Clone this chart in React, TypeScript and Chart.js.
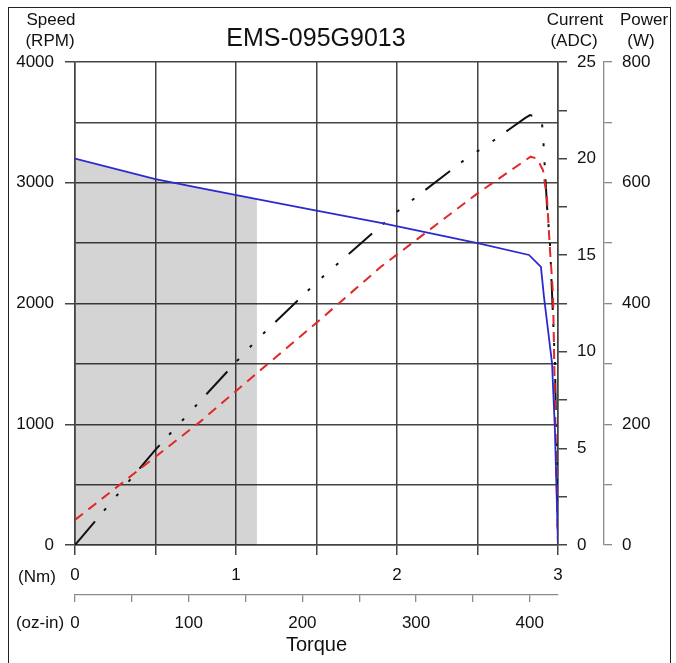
import React, { useEffect, useRef } from 'react';
import { Chart, registerables } from 'chart.js';

Chart.register(...registerables);

const CHART_TITLE = 'EMS-095G9013';

// Speed curve (RPM) vs torque (Nm)
const speedTorqueNm = [0, 0.5, 0.78, 1.13, 1.5, 1.9, 2.5, 2.82, 2.894, 2.913, 2.963, 2.981, 3.0];
const speedRpm = [3200, 3030, 2955, 2865, 2770, 2667, 2500, 2402, 2303, 2054, 1507, 952, 0];

// Continuous-duty shaded region (under speed curve)
const contTorqueNm = [0, 0.5, 0.78, 1.13];
const contSpeedRpm = [3200, 3030, 2955, 2865];

// Current (ADC) vs torque (Nm)
const currentTorqueNm = [0, 0.78, 1.13, 1.5, 1.9, 2.5, 2.83, 2.87, 2.907, 2.932, 2.95, 2.969, 2.981, 3.0];
const currentAdc = [1.3, 6.4, 8.9, 11.5, 14.4, 18.2, 20.1, 20.0, 19.4, 17.9, 15.3, 13.0, 7.5, 0];

// Power (W) vs torque (Nm)
const powerTorqueNm = [0, 0.5, 1.0, 1.13, 1.5, 2.0, 2.42, 2.6, 2.7, 2.795, 2.826, 2.87, 2.9, 2.907, 2.912, 2.932, 2.95, 2.969, 2.981, 2.99, 3.0];
const powerW = [0, 158, 303, 340, 435, 552, 638, 670, 689, 707, 712, 709, 699, 682, 654, 560, 500, 378, 300, 170, 0];

// Axes
const NM_MAX = 3;
const NM_TO_OZIN = 141.6119;
const SPEED_MAX = 4000;
const CURRENT_MAX = 25;
const POWER_MAX = 800;

const FONT = '"Liberation Sans", Arial, Helvetica, sans-serif';
const GRID = '#444444';
const AXIS2 = '#8a8a8a';
const TEXT = '#111111';

const pts = (xs: number[], ys: number[]) => xs.map((x, i) => ({ x, y: ys[i] }));

const headerPlugin = {
  id: 'headerTexts',
  afterDraw(chart: any) {
    const ctx = chart.ctx as CanvasRenderingContext2D;
    ctx.save();
    ctx.strokeStyle = '#222';
    ctx.lineWidth = 1;
    ctx.strokeRect(8.5, 7.5, 662, 680);
    ctx.fillStyle = TEXT;
    ctx.textAlign = 'center';
    ctx.textBaseline = 'middle';
    ctx.font = `17px ${FONT}`;
    ctx.fillText('Speed', 51, 20);
    ctx.fillText('(RPM)', 50, 41);
    ctx.fillText('Current', 575, 20);
    ctx.fillText('(ADC)', 574, 41);
    ctx.fillText('Power', 644, 20);
    ctx.fillText('(W)', 641, 41);
    ctx.fillText('(Nm)', 37, 577);
    ctx.fillText('(oz-in)', 40, 623);
    ctx.font = `25px ${FONT}`;
    ctx.fillText(CHART_TITLE, 316, 39);
    ctx.restore();
  },
};

export default function App() {
  const ref = useRef<HTMLCanvasElement | null>(null);

  useEffect(() => {
    if (!ref.current) return;
    const tickFont = { family: FONT, size: 17 };
    const chart = new Chart(ref.current, {
      type: 'line',
      data: {
        datasets: [
          {
            label: 'Speed',
            data: pts(speedTorqueNm, speedRpm),
            xAxisID: 'x',
            yAxisID: 'y',
            borderColor: '#2a2ad0',
            borderWidth: 1.8,
            pointRadius: 0,
            fill: false,
          },
          {
            label: 'Current',
            data: pts(currentTorqueNm, currentAdc),
            xAxisID: 'x',
            yAxisID: 'y1',
            borderColor: '#e02828',
            borderWidth: 2,
            borderDash: [10, 7],
            pointRadius: 0,
            fill: false,
          },
          {
            label: 'Power',
            data: pts(powerTorqueNm, powerW),
            xAxisID: 'x',
            yAxisID: 'y2',
            borderColor: '#111111',
            borderWidth: 2,
            borderDash: [31, 14, 3, 16, 3, 16, 3, 14],
            pointRadius: 0,
            fill: false,
          },
          {
            label: 'Continuous',
            data: pts(contTorqueNm, contSpeedRpm),
            xAxisID: 'x',
            yAxisID: 'y',
            borderWidth: 0,
            borderColor: 'rgba(0,0,0,0)',
            backgroundColor: 'rgba(0,0,0,0.17)',
            pointRadius: 0,
            fill: 'origin',
          },
        ],
      },
      options: {
        animation: false,
        responsive: false,
        devicePixelRatio: 1,
        layout: { padding: { top: 62, left: 0, right: 0, bottom: 0 } },
        plugins: {
          legend: { display: false },
          tooltip: { enabled: false },
          title: { display: false },
        },
        scales: {
          x: {
            type: 'linear',
            position: 'bottom',
            weight: 0,
            min: 0,
            max: NM_MAX,
            ticks: {
              stepSize: 0.5,
              autoSkip: false,
              maxRotation: 0,
              padding: 10,
              color: TEXT,
              font: tickFont,
              callback: (v: any) => (Number.isInteger(Number(v)) ? String(v) : ''),
            },
            grid: { color: GRID, lineWidth: 1.5, tickLength: 10, tickColor: GRID },
            border: { color: GRID, width: 1.5 },
            afterFit: (s: any) => {
              s.height = 50;
            },
          },
          x2: {
            type: 'linear',
            position: 'bottom',
            weight: 1,
            min: 0,
            max: NM_MAX * NM_TO_OZIN,
            ticks: {
              stepSize: 50,
              includeBounds: false,
              autoSkip: false,
              maxRotation: 0,
              padding: 11,
              color: TEXT,
              font: tickFont,
              callback: (v: any) => (Number(v) % 100 === 0 ? String(v) : ''),
            },
            grid: { drawOnChartArea: false, tickLength: 7, color: AXIS2, lineWidth: 1.3 },
            border: { color: AXIS2, width: 1.3 },
            title: {
              display: true,
              text: 'Torque',
              color: TEXT,
              font: { family: FONT, size: 20 },
              padding: { top: 2, bottom: 6 },
            },
            afterFit: (s: any) => {
              s.height = 68;
            },
          },
          y: {
            type: 'linear',
            position: 'left',
            min: 0,
            max: SPEED_MAX,
            ticks: {
              stepSize: 500,
              autoSkip: false,
              padding: 11,
              color: TEXT,
              font: tickFont,
              callback: (v: any) => (Number(v) % 1000 === 0 ? String(v) : ''),
            },
            grid: {
              color: GRID,
              lineWidth: 1.5,
              tickLength: 10,
              tickColor: (c: any) => (c.tick && c.tick.value % 1000 === 0 ? GRID : 'rgba(0,0,0,0)'),
            },
            border: { color: GRID, width: 1.5 },
            afterFit: (s: any) => {
              s.width = 75;
            },
          },
          y1: {
            type: 'linear',
            position: 'right',
            weight: 0,
            min: 0,
            max: CURRENT_MAX,
            ticks: {
              stepSize: 2.5,
              autoSkip: false,
              padding: 10,
              color: TEXT,
              font: tickFont,
              callback: (v: any) => (Number(v) % 5 === 0 ? String(v) : ''),
            },
            grid: { drawOnChartArea: false, tickLength: 9, color: GRID, lineWidth: 1.5 },
            border: { color: GRID, width: 1.5 },
            afterFit: (s: any) => {
              s.width = 46;
            },
          },
          y2: {
            type: 'linear',
            position: 'right',
            weight: 1,
            min: 0,
            max: POWER_MAX,
            ticks: {
              stepSize: 100,
              autoSkip: false,
              padding: 10,
              color: TEXT,
              font: tickFont,
              callback: (v: any) => (Number(v) % 200 === 0 ? String(v) : ''),
            },
            grid: { drawOnChartArea: false, tickLength: 8, color: AXIS2, lineWidth: 1.3 },
            border: { color: AXIS2, width: 1.3 },
            afterFit: (s: any) => {
              s.width = 72;
            },
          },
        },
      } as any,
      plugins: [headerPlugin],
    });
    return () => chart.destroy();
  }, []);

  return (
    <div style={{ position: 'absolute', left: 0, top: 0, width: 676, height: 663, background: '#fff' }}>
      <canvas ref={ref} width={676} height={663} style={{ width: 676, height: 663, display: 'block' }} />
    </div>
  );
}
